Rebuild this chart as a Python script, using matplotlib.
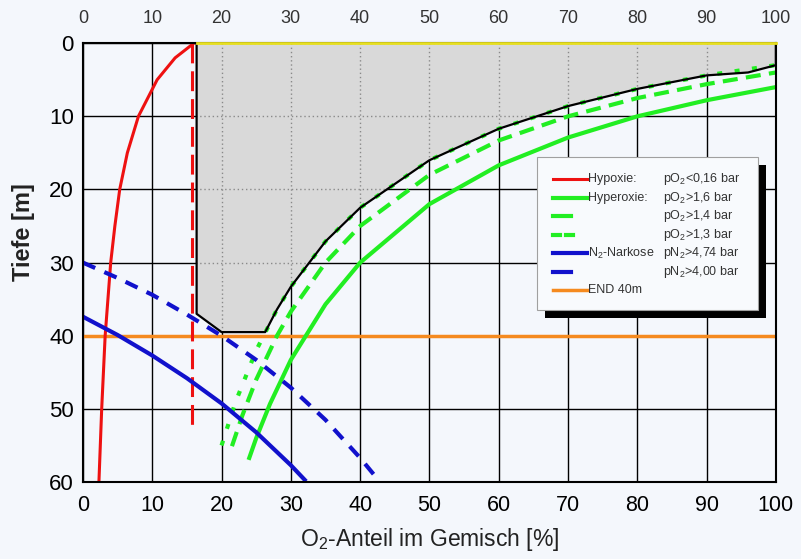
import matplotlib
matplotlib.use("Agg")
import matplotlib.pyplot as plt
from matplotlib.patches import Polygon, Rectangle
from matplotlib.lines import Line2D

plt.rcParams['font.family'] = ['Liberation Sans', 'DejaVu Sans']
plt.rcParams['mathtext.fontset'] = 'custom'
plt.rcParams['mathtext.rm'] = 'Liberation Sans'
plt.rcParams['mathtext.it'] = 'Liberation Sans'

# --- data (O2 share [%], depth [m]) ---
hypoxie_o2 = [16, 13.3, 10.7, 8.0, 6.4, 5.3, 4.6, 4.0, 3.2, 2.7, 2.3]
hypoxie_depth = [0, 2, 5, 10, 15, 20, 25, 30, 40, 50, 60]

hypoxie_limit_o2 = [15.8, 15.8]
hypoxie_limit_depth = [0, 53]

hyper16_o2 = [24, 25, 27, 30, 35, 40, 50, 60, 70, 80, 90, 100]
hyper16_depth = [56.7, 54.0, 49.3, 43.3, 35.7, 30.0, 22.0, 16.7, 12.9, 10.0, 7.8, 6.0]

hyper14_o2 = [21.5, 23, 25, 28, 30, 35, 40, 50, 60, 70, 80, 90, 100]
hyper14_depth = [55.1, 50.9, 46.0, 40.0, 36.7, 30.0, 25.0, 18.0, 13.3, 10.0, 7.5, 5.6, 4.0]

hyper13_o2 = [20, 22, 25, 28, 30, 35, 40, 50, 60, 70, 80, 90, 100]
hyper13_depth = [55.0, 49.1, 42.0, 36.4, 33.3, 27.1, 22.5, 16.0, 11.7, 8.6, 6.25, 4.4, 3.0]

narc474_o2 = [0, 5, 10, 15, 20, 25, 30, 32]
narc474_depth = [37.4, 39.9, 42.7, 45.8, 49.25, 53.2, 57.7, 59.7]

narc400_o2 = [0, 5, 10, 15, 20, 25, 30, 35, 40, 42]
narc400_depth = [30.0, 32.1, 34.4, 37.1, 40.0, 43.3, 47.1, 51.5, 56.7, 59.0]

end_depth = 40

# usable range (shaded area), outline from top-left going round
zone_o2 = [16.4, 16.4, 20, 26.3, 28, 30, 35, 40, 50, 60, 70, 80, 90, 96, 100, 100]
zone_depth = [0, 37, 39.5, 39.5, 36.4, 33.3, 27.1, 22.5, 16.0, 11.7, 8.6, 6.25, 4.4, 4.0, 3.0, 0]

x_ticks = list(range(0, 101, 10))
y_ticks = list(range(0, 61, 10))

legend_rows = [
    ("Hypoxie:", "pO$_2$<0,16 bar"),
    ("Hyperoxie:", "pO$_2$>1,6 bar"),
    ("", "pO$_2$>1,4 bar"),
    ("", "pO$_2$>1,3 bar"),
    ("N$_2$-Narkose", "pN$_2$>4,74 bar"),
    ("", "pN$_2$>4,00 bar"),
    ("END 40m", ""),
]

bg = '#f4f7fc'
red = '#ee1111'
green = '#22ee22'
blue = '#1111cc'
orange = '#f58a1f'

styles = [
    dict(color=red, lw=2.2, ls='-'),
    dict(color=green, lw=3.0, ls='-'),
    dict(color=green, lw=3.0, ls=(0, (3.6, 2.0))),
    dict(color=green, lw=3.0, ls=(0, (1.2, 3.0))),
    dict(color=blue, lw=3.0, ls='-'),
    dict(color=blue, lw=3.0, ls=(0, (3.2, 2.4))),
    dict(color=orange, lw=2.5, ls='-'),
]

fig = plt.figure(figsize=(8.01, 5.59), dpi=100, facecolor=bg)
ax = fig.add_axes([0.1036, 0.1377, 0.865, 0.785], facecolor=bg)

ax.set_xlim(0, 100)
ax.set_ylim(60, 0)
ax.set_xticks(x_ticks)
ax.set_yticks(y_ticks)
ax.grid(True, color='black', lw=1.0)
ax.set_axisbelow(True)

# shaded zone with dotted grid inside
zone = Polygon(list(zip(zone_o2, zone_depth)), closed=True,
               facecolor='#d9d9d9', edgecolor='none', zorder=1)
ax.add_patch(zone)
for xt in x_ticks:
    l, = ax.plot([xt, xt], [0, 60], color='#8a8a8a', lw=1.0, ls=(0, (1, 2)), zorder=1.2)
    l.set_clip_path(zone)
for yt in y_ticks:
    l, = ax.plot([0, 100], [yt, yt], color='#8a8a8a', lw=1.0, ls=(0, (1, 2)), zorder=1.2)
    l.set_clip_path(zone)

ax.plot(hypoxie_o2, hypoxie_depth, zorder=3, **styles[0])
ax.plot(hypoxie_limit_o2, hypoxie_limit_depth, color=red, lw=2.2,
        ls=(0, (6.5, 2.6)), zorder=3)
ax.plot(hyper16_o2, hyper16_depth, zorder=3, **styles[1])
ax.plot(hyper14_o2, hyper14_depth, zorder=3, **styles[2])
ax.plot(hyper13_o2, hyper13_depth, zorder=2.5, **styles[3])
ax.plot(narc474_o2, narc474_depth, zorder=3, **styles[4])
ax.plot(narc400_o2, narc400_depth, zorder=3, **styles[5])
ax.axhline(end_depth, zorder=2.8, **styles[6])

# outline of the zone (open at the top, yellow top edge)
ax.plot(zone_o2, zone_depth, color='black', lw=1.6, zorder=2.9)
ax.plot([zone_o2[0], zone_o2[-1]], [0, 0], color='#e8e020', lw=2.0, zorder=4, clip_on=False)

for s in ax.spines.values():
    s.set_linewidth(1.5)
    s.set_zorder(3.5)

ax.tick_params(length=0, labelsize=15.5, colors='black')
ax.tick_params(axis='x', pad=9.5)
ax.tick_params(axis='y', pad=6.5, labelsize=16)

top = ax.secondary_xaxis('top')
top.set_xticks(x_ticks)
top.tick_params(length=0, labelsize=13, colors='#333333', pad=11.5)
top.spines['top'].set_visible(False)

ax.set_xlabel("O$_2$-Anteil im Gemisch [%]", fontsize=16.5, color='#222222')
ax.xaxis.set_label_coords(0.5, -0.10)
ax.set_ylabel("Tiefe [m]", fontsize=17, fontweight='bold', color='#222222')
ax.yaxis.set_label_coords(-0.069, 0.569)

# legend box drawn by hand (two text columns)
T = ax.transAxes
bx0, by0, bx1, by1 = 0.655, 0.392, 0.974, 0.740
ax.add_patch(Rectangle((bx0 + 0.0115, by0 - 0.018), bx1 - bx0, by1 - by0, transform=T,
                       facecolor='black', edgecolor='none', zorder=10))
ax.add_patch(Rectangle((bx0, by0), bx1 - bx0, by1 - by0, transform=T,
                       facecolor='#f8fafd', edgecolor='#a0a0a0', lw=0.8, zorder=11))
row_y0, row_dy = 0.6895, 0.0420
for i, ((lab1, lab2), st) in enumerate(zip(legend_rows, styles)):
    yy = row_y0 - i * row_dy
    if st['ls'] == '-':
        ax.add_line(Line2D([0.678, 0.727], [yy, yy], transform=T, color=st['color'],
                           lw=st['lw'], zorder=12))
    elif i == 3:
        for xa in (0.678, 0.697):
            ax.add_line(Line2D([xa, xa + 0.010], [yy, yy], transform=T, color=st['color'],
                               lw=st['lw'], zorder=12))
    else:
        ax.add_line(Line2D([0.678, 0.704], [yy, yy], transform=T, color=st['color'],
                           lw=st['lw'], zorder=12))
    if lab1:
        ax.text(0.729, yy, lab1, transform=T, fontsize=9, color='#333333',
                va='center', ha='left', zorder=13)
    if lab2:
        ax.text(0.837, yy, lab2, transform=T, fontsize=9, color='#333333',
                va='center', ha='left', zorder=13)

fig.savefig("out.png", dpi=100, facecolor=bg)
